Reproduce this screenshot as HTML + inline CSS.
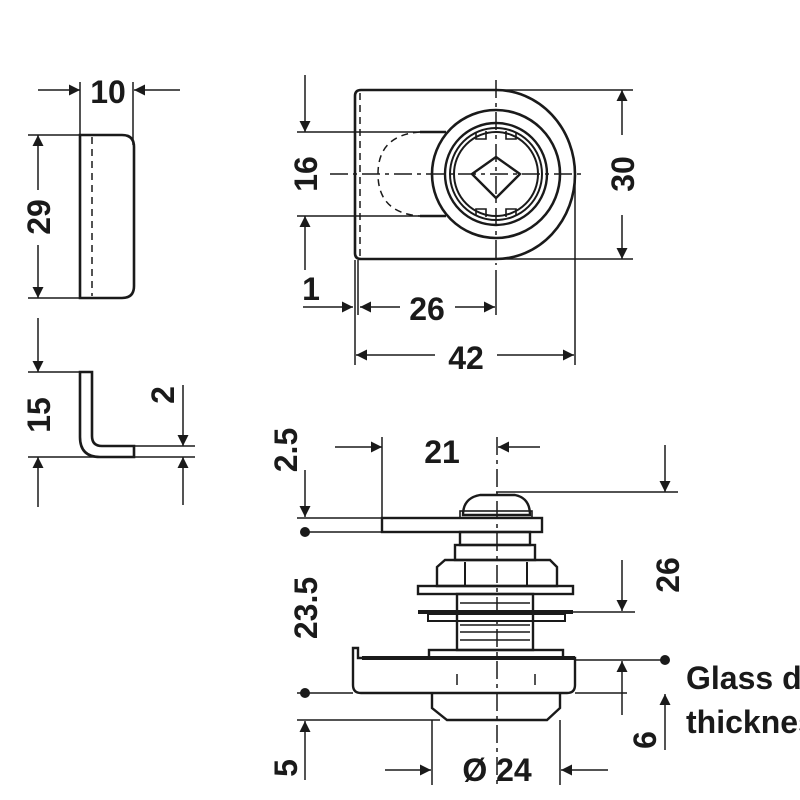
<!DOCTYPE html>
<html><head><meta charset="utf-8"><style>
html,body{margin:0;padding:0;background:#fff;width:800px;height:800px;overflow:hidden}
text{font-family:"Liberation Sans",sans-serif;font-weight:bold;font-size:32px;fill:#1a1a1a}
</style></head><body>
<svg width="800" height="800" viewBox="0 0 800 800" xmlns="http://www.w3.org/2000/svg">
<defs>
<marker id="a" viewBox="0 0 10 10" refX="10" refY="5" markerWidth="18" markerHeight="11" markerUnits="userSpaceOnUse" orient="auto"><path d="M0,0 L10,5 L0,10 Z" fill="#1a1a1a"/></marker>
</defs>
<g stroke="#1a1a1a" fill="none" stroke-width="1.5">
<!-- top-left part -->
<line x1="38" y1="90" x2="80" y2="90" marker-end="url(#a)"/>
<line x1="180" y1="90" x2="134" y2="90" marker-end="url(#a)"/>
<line x1="80" y1="82" x2="80" y2="135"/>
<line x1="133" y1="82" x2="133" y2="145"/>
<path d="M80,135 H122 Q134,135 134,147 V286 Q134,298 122,298 H80 Z" stroke-width="2.6"/>
<line x1="92" y1="137" x2="92" y2="296" stroke-dasharray="7,5"/>
<line x1="28" y1="135" x2="80" y2="135"/>
<line x1="28" y1="298" x2="80" y2="298"/>
<line x1="38" y1="190" x2="38" y2="135" marker-end="url(#a)"/>
<line x1="38" y1="245" x2="38" y2="298" marker-end="url(#a)"/>
<!-- L bracket -->
<path d="M80,372 H92 V436 Q92,446 102,446 H134 V457 H100 Q80,457 80,437 Z" stroke-width="2.6"/>
<line x1="28" y1="372" x2="80" y2="372"/>
<line x1="28" y1="457" x2="195" y2="457"/>
<line x1="134" y1="446" x2="195" y2="446"/>
<line x1="38" y1="318" x2="38" y2="372" marker-end="url(#a)"/>
<line x1="38" y1="507" x2="38" y2="457" marker-end="url(#a)"/>
<line x1="183" y1="385" x2="183" y2="446" marker-end="url(#a)"/>
<line x1="183" y1="505" x2="183" y2="457" marker-end="url(#a)"/>
<!-- top middle -->
<path d="M361,90 H496 A79,84.5 0 0 1 496,259 H361 Q355,259 355,253 V96 Q355,90 361,90 Z" stroke-width="2.6"/>
<line x1="360" y1="93" x2="360" y2="256" stroke-dasharray="7,5"/>
<circle cx="496" cy="174" r="64" stroke-width="2.6"/>
<circle cx="496" cy="174" r="51" stroke-width="2.4"/>
<circle cx="496" cy="174" r="46" stroke-width="2"/>
<circle cx="496" cy="174" r="42" stroke-width="2"/>
<path d="M476,133 V139 H486 V131 M506,131 V139 H516 V133 M476,215 V209 H486 V217 M506,217 V209 H516 V215" stroke-width="1.6"/>
<path d="M472,174 L496,157 L520,174 L496,198 Z" stroke-width="2.4"/>
<path d="M420,132 Q378,135 378,174 Q378,213 420,216" stroke-dasharray="7,5"/>
<line x1="420" y1="132" x2="446" y2="132" stroke-width="2.4"/>
<line x1="420" y1="216" x2="446" y2="216" stroke-width="2.4"/>
<line x1="297" y1="132" x2="420" y2="132"/>
<line x1="297" y1="216" x2="420" y2="216"/>
<line x1="330" y1="174" x2="585" y2="174" stroke-dasharray="18,5,4,5"/>
<line x1="496" y1="80" x2="496" y2="265" stroke-dasharray="18,5,4,5"/>
<line x1="305" y1="75" x2="305" y2="132" marker-end="url(#a)"/>
<line x1="305" y1="270" x2="305" y2="216" marker-end="url(#a)"/>
<line x1="303" y1="307" x2="353" y2="307" marker-end="url(#a)"/>
<line x1="400" y1="307" x2="360" y2="307" marker-end="url(#a)"/>
<line x1="455" y1="307" x2="495" y2="307" marker-end="url(#a)"/>
<line x1="496" y1="270" x2="496" y2="315"/>
<line x1="355" y1="260" x2="355" y2="365"/>
<line x1="358" y1="260" x2="358" y2="315"/>
<line x1="575" y1="180" x2="575" y2="365"/>
<line x1="435" y1="355" x2="356" y2="355" marker-end="url(#a)"/>
<line x1="497" y1="355" x2="574" y2="355" marker-end="url(#a)"/>
<line x1="496" y1="90" x2="633" y2="90"/>
<line x1="496" y1="259" x2="633" y2="259"/>
<line x1="622" y1="135" x2="622" y2="90" marker-end="url(#a)"/>
<line x1="622" y1="215" x2="622" y2="259" marker-end="url(#a)"/>
<!-- bottom assembly -->
<line x1="497" y1="437" x2="497" y2="785" stroke-dasharray="18,5,4,5"/>
<path d="M463,515 Q463,498 480,495 H515 Q530,498 530,515 Z" stroke-width="2.4"/>
<rect x="460" y="511" width="72" height="7" stroke-width="1.6"/>
<rect x="382" y="518" width="160" height="14" stroke-width="2.4"/>
<line x1="297" y1="518" x2="382" y2="518"/>
<line x1="305" y1="532" x2="382" y2="532"/>
<line x1="496" y1="492" x2="678" y2="492"/>
<line x1="665" y1="445" x2="665" y2="492" marker-end="url(#a)"/>
<line x1="335" y1="447" x2="382" y2="447" marker-end="url(#a)"/>
<line x1="382" y1="437" x2="382" y2="532"/>
<line x1="540" y1="447" x2="498" y2="447" marker-end="url(#a)"/>
<rect x="460" y="532" width="70" height="13" stroke-width="2.4"/>
<rect x="455" y="545" width="80" height="15" stroke-width="2.4"/>
<path d="M437,586 V567 L445,560 H550 L557,567 V586 Z" stroke-width="2.4"/>
<line x1="465" y1="562" x2="465" y2="586" stroke-width="2"/>
<line x1="527" y1="562" x2="527" y2="586" stroke-width="2"/>
<rect x="418" y="586" width="155" height="8" stroke-width="2.4"/>
<rect x="457" y="594" width="76" height="56" stroke-width="2.4"/>
<line x1="460" y1="603" x2="530" y2="603"/><line x1="460" y1="625" x2="530" y2="625"/>
<line x1="460" y1="632" x2="530" y2="632"/><line x1="460" y1="640" x2="530" y2="640"/>
<line x1="418" y1="612" x2="573" y2="612" stroke-width="4"/>
<rect x="428" y="614" width="137" height="7" stroke-width="2"/>
<line x1="573" y1="612" x2="635" y2="612"/>
<line x1="622" y1="560" x2="622" y2="611" marker-end="url(#a)"/>
<rect x="429" y="650" width="134" height="8" stroke-width="2.4"/>
<path d="M353,648 H358 V658 H575 V685 Q575,693 567,693 H361 Q353,693 353,685 Z" stroke-width="2.4"/>
<line x1="362" y1="658" x2="575" y2="658" stroke-width="4"/>
<line x1="457" y1="674" x2="457" y2="685"/><line x1="535" y1="674" x2="535" y2="685"/>
<path d="M432,693 V708 L447,720 H547 L560,708 V693" stroke-width="2.4"/>
<line x1="575" y1="660" x2="665" y2="660"/>
<line x1="297" y1="693" x2="353" y2="693"/>
<line x1="575" y1="693" x2="627" y2="693"/>
<line x1="297" y1="720" x2="440" y2="720"/>
<line x1="622" y1="715" x2="622" y2="661" marker-end="url(#a)"/>
<line x1="665" y1="750" x2="665" y2="694" marker-end="url(#a)"/>
<line x1="305" y1="470" x2="305" y2="517" marker-end="url(#a)"/>
<line x1="305" y1="780" x2="305" y2="721" marker-end="url(#a)"/>
<line x1="432" y1="720" x2="432" y2="785"/>
<line x1="560" y1="720" x2="560" y2="785"/>
<line x1="385" y1="770" x2="431" y2="770" marker-end="url(#a)"/>
<line x1="608" y1="770" x2="561" y2="770" marker-end="url(#a)"/>
</g>
<g fill="#1a1a1a">
<circle cx="305" cy="532" r="5"/><circle cx="665" cy="660" r="5"/><circle cx="305" cy="693" r="5"/>
</g>
<text x="108" y="103" text-anchor="middle">10</text>
<text transform="translate(50,217) rotate(-90)" text-anchor="middle">29</text>
<text transform="translate(50,415) rotate(-90)" text-anchor="middle">15</text>
<text transform="translate(174,395) rotate(-90)" text-anchor="middle">2</text>
<text transform="translate(317,174) rotate(-90)" text-anchor="middle">16</text>
<text x="311" y="300" text-anchor="middle">1</text>
<text x="427" y="320" text-anchor="middle">26</text>
<text x="466" y="369" text-anchor="middle">42</text>
<text transform="translate(634,174) rotate(-90)" text-anchor="middle">30</text>
<text x="442" y="463" text-anchor="middle">21</text>
<text transform="translate(297,450) rotate(-90)" text-anchor="middle">2.5</text>
<text transform="translate(317,608) rotate(-90)" text-anchor="middle">23.5</text>
<text transform="translate(297,768) rotate(-90)" text-anchor="middle">5</text>
<text transform="translate(679,575) rotate(-90)" text-anchor="middle">26</text>
<text transform="translate(656,740) rotate(-90)" text-anchor="middle">6</text>
<text x="497" y="781" text-anchor="middle">Ø 24</text>
<text x="686" y="689">Glass door</text>
<text x="686" y="733">thickness</text>
</svg>
</body></html>
